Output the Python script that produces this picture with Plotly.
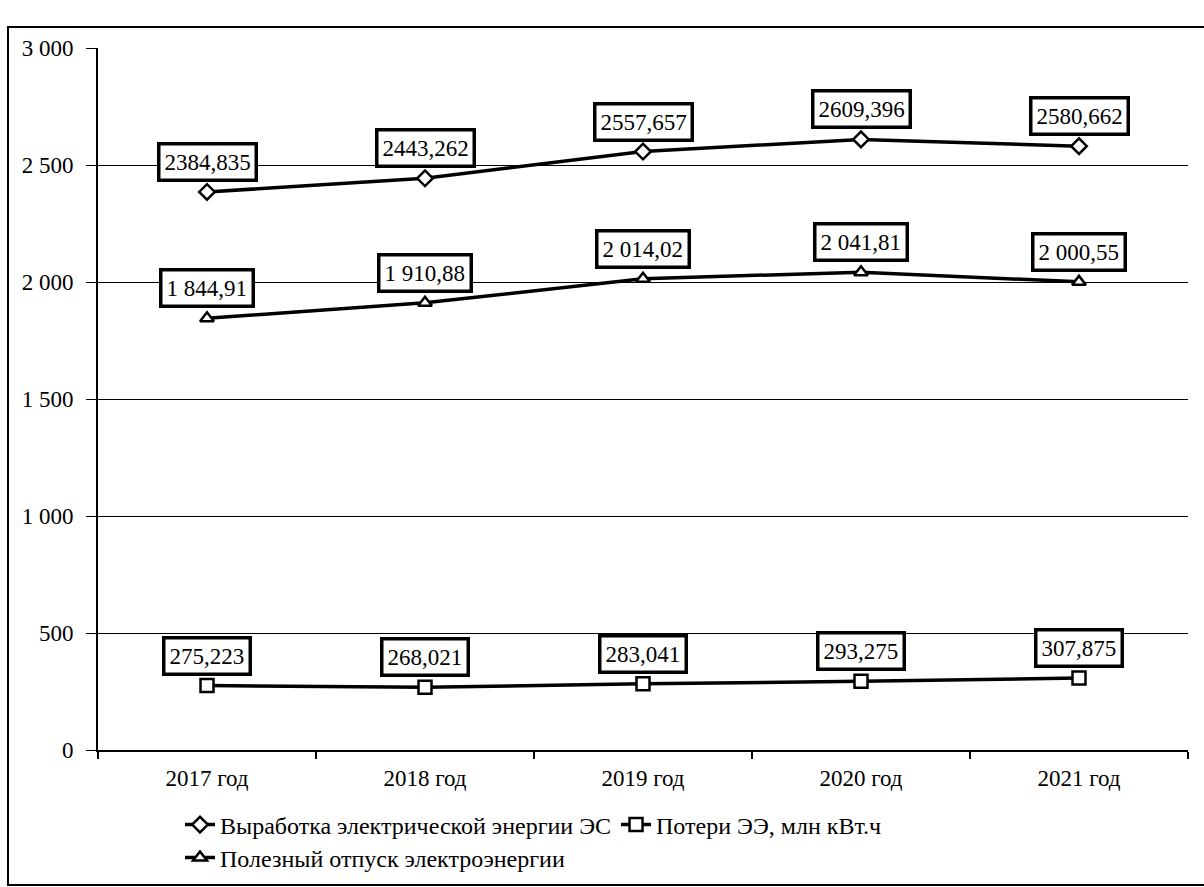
import plotly.graph_objects as go

# Data series
years = ["2017 год", "2018 год", "2019 год", "2020 год", "2021 год"]
generation = [2384.835, 2443.262, 2557.657, 2609.396, 2580.662]
useful_supply = [1844.91, 1910.88, 2014.02, 2041.81, 2000.55]
losses = [275.223, 268.021, 283.041, 293.275, 307.875]

generation_labels = ["2384,835", "2443,262", "2557,657", "2609,396", "2580,662"]
supply_labels = ["1 844,91", "1 910,88", "2 014,02", "2 041,81", "2 000,55"]
loss_labels = ["275,223", "268,021", "283,041", "293,275", "307,875"]

y_tickvals = [0, 500, 1000, 1500, 2000, 2500, 3000]
y_ticktext = ["0", "500", "1 000", "1 500", "2 000", "2 500", "3 000"]

series_names = [
    "Выработка электрической энергии ЭС",
    "Потери ЭЭ, млн кВт.ч",
    "Полезный отпуск электроэнергии",
]

FONT = "Liberation Serif"

# Plot area geometry in pixels (used for paper-coordinate conversions)
W, H = 1204, 887
L, R, T, B = 98, 16, 48, 137
PW, PH = W - L - R, H - T - B


def px_x(px):
    return (px - L) / PW


def px_y(py):
    return (H - B - py) / PH


fig = go.Figure()

line_style = dict(color="black", width=3.5)

fig.add_trace(go.Scatter(
    x=years, y=generation, name=series_names[0], mode="lines+markers",
    line=line_style,
    marker=dict(symbol="diamond", size=12, color="white",
                line=dict(color="black", width=2.5)),
    legend="legend",
))
fig.add_trace(go.Scatter(
    x=years, y=losses, name=series_names[1], mode="lines+markers",
    line=line_style,
    marker=dict(symbol="square", size=13, color="white",
                line=dict(color="black", width=2.5)),
    legend="legend",
))
fig.add_trace(go.Scatter(
    x=years, y=useful_supply, name=series_names[2], mode="lines+markers",
    line=line_style,
    marker=dict(symbol="triangle-up", size=12, color="white",
                line=dict(color="black", width=2.5)),
    legend="legend2",
))

# Boxed value labels above each point
for values, labels in ((generation, generation_labels),
                       (useful_supply, supply_labels),
                       (losses, loss_labels)):
    for yr, v, t in zip(years, values, labels):
        fig.add_annotation(
            x=yr, y=v, text=t, showarrow=False,
            yshift=30, yanchor="middle",
            font=dict(family=FONT, size=23, color="black"),
            bgcolor="white", bordercolor="black", borderwidth=3.5,
            borderpad=4,
        )

# Outer chart frame
fig.add_shape(
    type="rect", xref="paper", yref="paper",
    x0=px_x(8), x1=px_x(1210), y0=px_y(885), y1=px_y(27),
    line=dict(color="black", width=2), fillcolor="rgba(0,0,0,0)",
    layer="below",
)

legend_font = dict(family=FONT, size=24, color="black")

fig.update_layout(
    width=W, height=H,
    margin=dict(l=L, r=R, t=T, b=B, autoexpand=False),
    paper_bgcolor="white", plot_bgcolor="white",
    font=dict(family=FONT, size=22, color="black"),
    showlegend=True,
    legend=dict(
        orientation="h", x=px_x(180), y=px_y(825),
        xanchor="left", yanchor="middle",
        font=legend_font,
        bgcolor="rgba(0,0,0,0)", itemwidth=30, tracegroupgap=0,
    ),
    legend2=dict(
        orientation="h", x=px_x(180), y=px_y(858),
        xanchor="left", yanchor="middle",
        font=legend_font,
        bgcolor="rgba(0,0,0,0)", itemwidth=30,
    ),
    xaxis=dict(
        type="category", showgrid=False, showline=True,
        linecolor="black", linewidth=2,
        ticks="outside", tickson="boundaries", ticklen=7,
        tickcolor="black", tickwidth=1.5,
        tickfont=dict(family=FONT, size=23, color="black"),
        ticklabelstandoff=6,
        range=[-0.5, 4.5], fixedrange=True,
    ),
    yaxis=dict(
        range=[0, 3000], tickvals=y_tickvals, ticktext=y_ticktext,
        showgrid=True, gridcolor="black", gridwidth=1.2,
        showline=True, linecolor="black", linewidth=2,
        ticks="outside", ticklen=10, tickcolor="black", tickwidth=1.2,
        tickfont=dict(family=FONT, size=23, color="black"),
        ticklabelstandoff=8,
        zeroline=False,
    ),
)

fig.write_html("out.html")
